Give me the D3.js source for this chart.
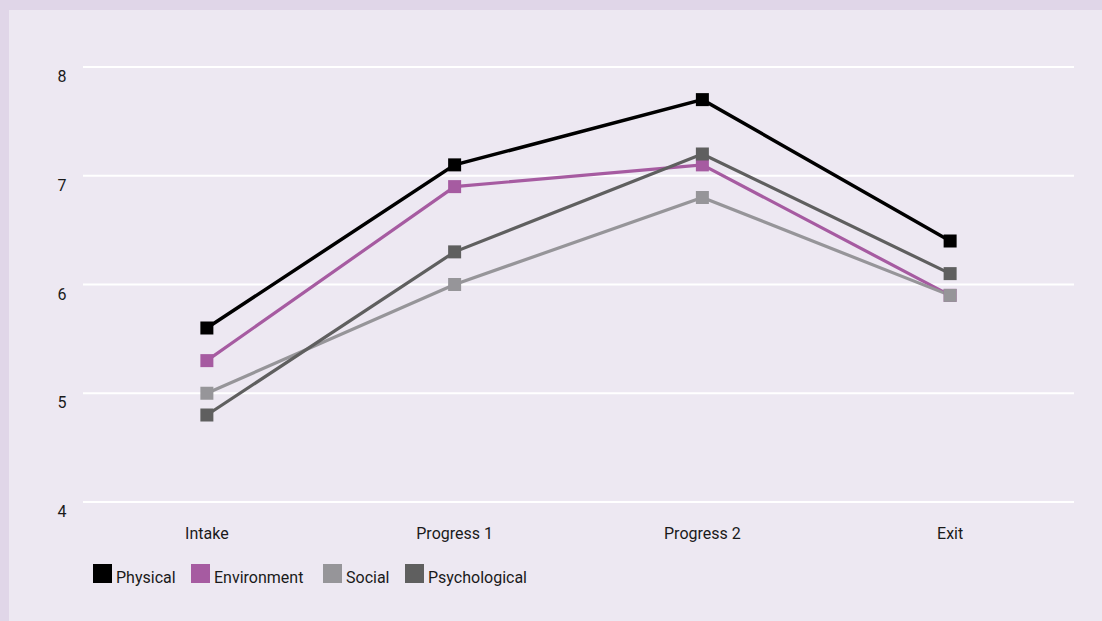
<!DOCTYPE html>
<meta charset="utf-8">
<head>
  <style>
    body { margin: 0; background: #e0d6e8; }
    text { font-family: Roboto, "Open Sans", sans-serif; fill: #1a1a1a; }
    .tick-label { font-size: 16px; }
    .legend-label { font-size: 16px; }
  </style>
</head>
<script src="https://d3js.org/d3.v7.min.js"></script>
<div id="my_dataviz"></div>
<script>
const WIDTH = 1102;
const HEIGHT = 621;

// data
const categories = ["Intake", "Progress 1", "Progress 2", "Exit"];
const seriesNames = ["Physical", "Environment", "Social", "Psychological"];
const physical = [5.6, 7.1, 7.7, 6.4];
const environment = [5.3, 6.9, 7.1, 5.9];
const social = [5.0, 6.0, 6.8, 5.9];
const psychological = [4.8, 6.3, 7.2, 6.1];
const yTicks = [4, 5, 6, 7, 8];
const COLORS = ["#000000", "#a65ba1", "#969599", "#5f5f5f"];

const series = [physical, environment, social, psychological];

var svg = d3.select("#my_dataviz")
  .append("svg")
  .attr("width", WIDTH)
  .attr("height", HEIGHT)
  .style("display", "block");

// panel background
svg.append("rect")
  .attr("x", 9).attr("y", 10)
  .attr("width", WIDTH - 9).attr("height", HEIGHT - 10)
  .attr("fill", "#ede8f2");

var x = d3.scaleBand()
  .domain(categories)
  .range([83, 1074]);

var y = d3.scaleLinear()
  .domain([4, 8])
  .range([502, 67]);

// gridlines
svg.selectAll(".grid")
  .data(yTicks)
  .enter()
  .append("line")
  .attr("x1", 83).attr("x2", 1074)
  .attr("y1", d => y(d)).attr("y2", d => y(d))
  .attr("stroke", "#ffffff")
  .attr("stroke-width", 2);

// y labels
svg.selectAll(".ylab")
  .data(yTicks)
  .enter()
  .append("text")
  .attr("class", "tick-label")
  .attr("x", 62)
  .attr("y", d => y(d) + 15)
  .attr("text-anchor", "middle")
  .text(d => d);

// x labels
svg.selectAll(".xlab")
  .data(categories)
  .enter()
  .append("text")
  .attr("class", "tick-label")
  .attr("x", d => x(d) + x.bandwidth() / 2)
  .attr("y", 539)
  .attr("text-anchor", "middle")
  .text(d => d);

var line = d3.line()
  .x((d, i) => x(categories[i]) + x.bandwidth() / 2)
  .y(d => y(d));

series.forEach((s, k) => {
  svg.append("path")
    .datum(s)
    .attr("d", line)
    .attr("fill", "none")
    .attr("stroke", COLORS[k])
    .attr("stroke-width", k === 0 ? 3.5 : 3.2);
});

series.forEach((s, k) => {
  svg.selectAll(".m" + k)
    .data(s)
    .enter()
    .append("rect")
    .attr("x", (d, i) => x(categories[i]) + x.bandwidth() / 2 - 6.5)
    .attr("y", d => y(d) - 6.5)
    .attr("width", 13)
    .attr("height", 13)
    .attr("fill", COLORS[k]);
});

// legend
const legendX = [93, 191, 323, 405];
var legend = svg.selectAll(".legend")
  .data(seriesNames)
  .enter()
  .append("g")
  .attr("transform", (d, i) => `translate(${legendX[i]}, 564)`);

legend.append("rect")
  .attr("width", 19)
  .attr("height", 19)
  .attr("fill", (d, i) => COLORS[i]);

legend.append("text")
  .attr("class", "legend-label")
  .attr("x", 23)
  .attr("y", 19)
  .text(d => d);
</script>
